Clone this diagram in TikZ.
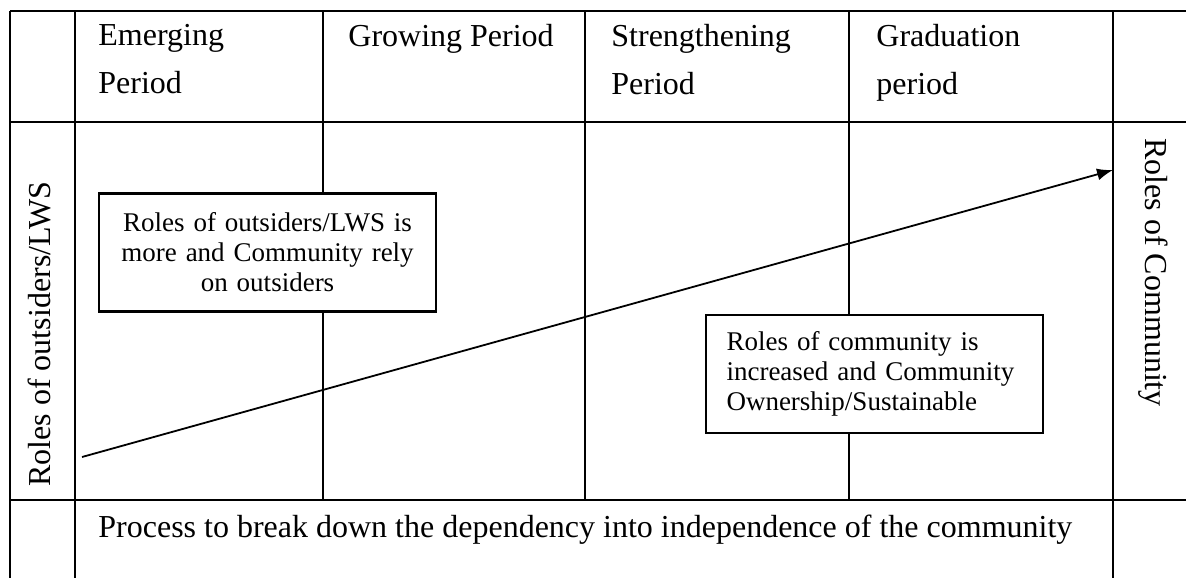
\documentclass[tikz,border=0pt]{standalone}
\usepackage{fontspec}
\setmainfont{Liberation Serif}
\usepackage{tikz}
\usetikzlibrary{arrows.meta}

\begin{document}
\begin{tikzpicture}[
    x=0.5pt, y=-0.5pt,
    grid/.style={line width=1.1pt},
    head/.style={anchor=north west, align=left, inner sep=0pt, font=\fontsize{16}{24}\selectfont},
    side/.style={anchor=base west, inner sep=0pt, font=\fontsize{16}{19}\selectfont},
    note/.style={draw, line width=1.1pt, fill=white, inner xsep=10.25pt, inner ysep=0pt,
                 text width=148pt, minimum height=59pt, font=\fontsize{13.5}{15}\selectfont},
    arr/.style={-{Latex[length=8pt,width=6pt]}, line width=0.9pt}
]
\useasboundingbox (0,0) rectangle (1186,578);
% table rules
\draw[grid] (10,11) -- (1186,11);
\draw[grid] (10,122) -- (1186,122);
\draw[grid] (10,500) -- (1186,500);
\foreach \x in {10,75,1113}
    \draw[grid] (\x,11) -- (\x,578);
\foreach \x in {323,585,849}
    \draw[grid] (\x,11) -- (\x,500);
% period headings
\node[head] (h1) at (98,24) {Emerging\\Period};
\node[head] (h2) at (348,24) {Growing Period};
\node[head] (h3) at (611,24) {Strengthening\\Period};
\node[head] (h4) at (876,24) {Graduation\\period};
% side labels
\node[side, rotate=90] (outsiders) at (50,487) {Roles of outsiders/LWS};
\node[side, rotate=-90] (community) at (1145,138) {Roles of Community};
% notes
\node[note, align=center] (outnote) at (267.5,252.5) {Roles of outsiders/LWS is\\more and Community rely\\on outsiders};
\node[note, align=left] (comnote) at (874.5,374) {Roles of community is\\increased and Community\\Ownership/Sustainable};
% trend
\coordinate (lo) at (82,457);
\coordinate (hi) at (1113,170);
\draw[arr] (lo) -- (hi);
\node[side] (process) at (98,537) {Process to break down the dependency into independence of the community};
\end{tikzpicture}
\end{document}
